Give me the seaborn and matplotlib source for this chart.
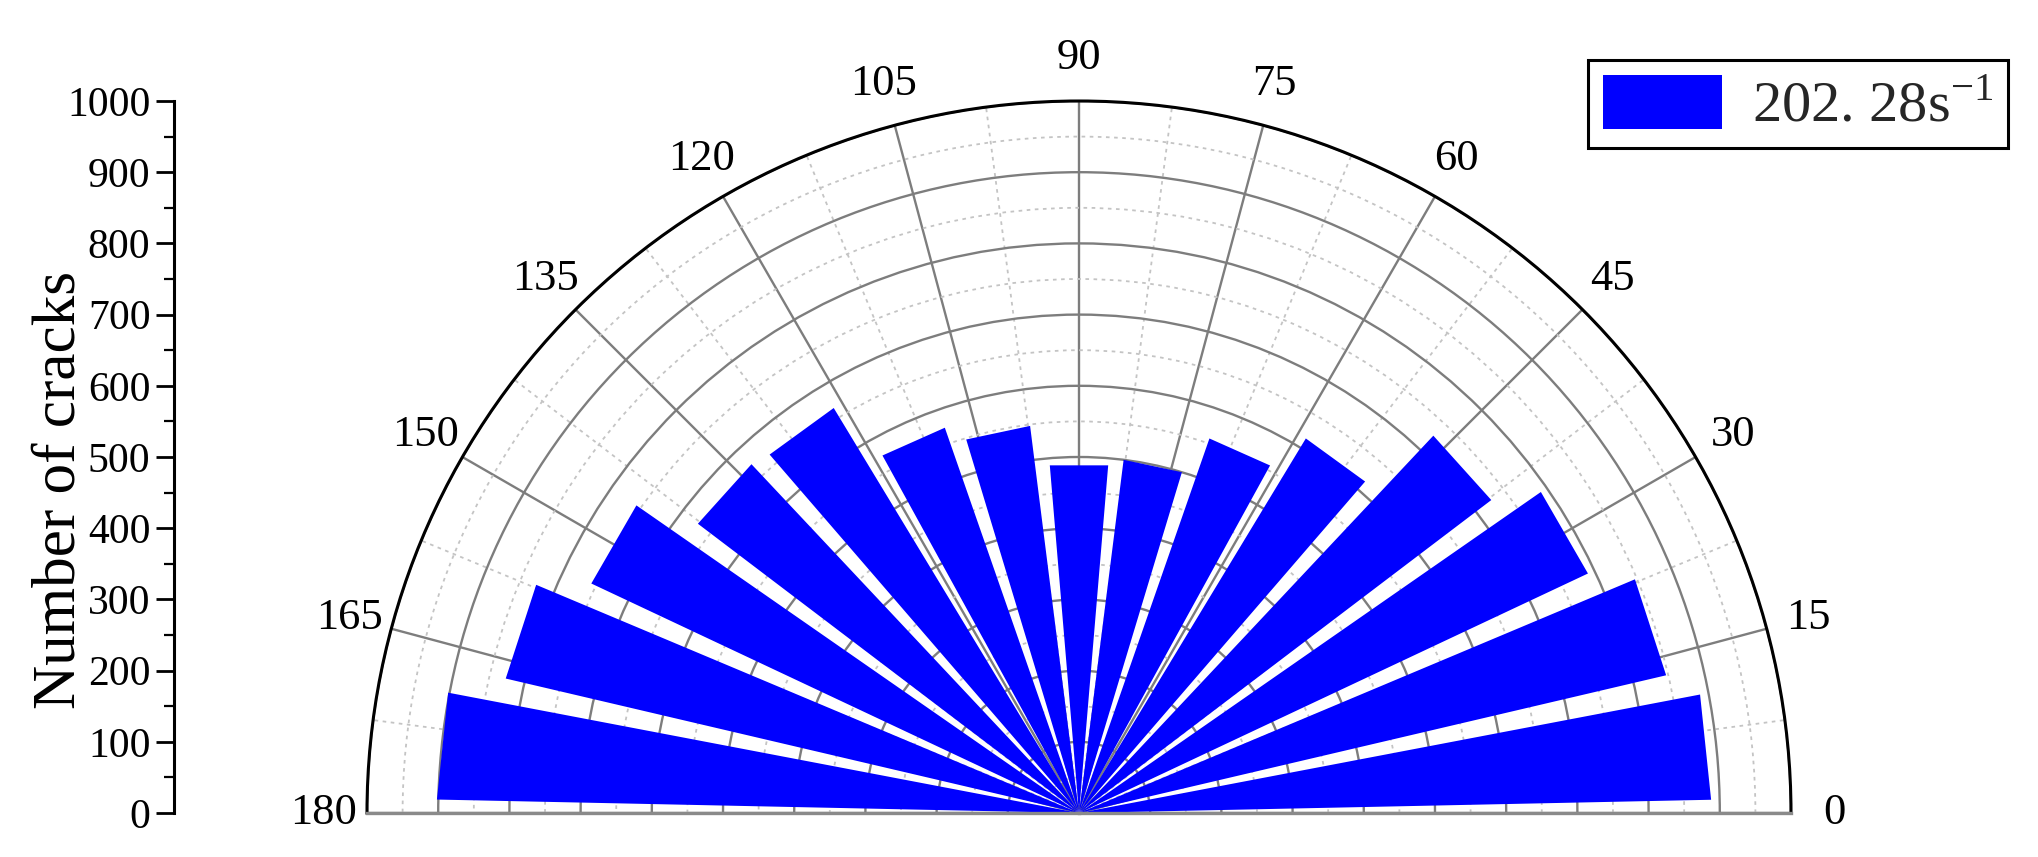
import numpy as np
import pandas as pd
import matplotlib
matplotlib.use("Agg")
import matplotlib.pyplot as plt
import seaborn as sns
from matplotlib.ticker import FixedLocator, MultipleLocator
from matplotlib.patches import Patch

# ---------------- data ----------------
angle_centers = [6, 18, 30, 42, 54, 66, 78, 90, 102, 114, 126, 138, 150, 162, 174]
crack_counts = [888, 847, 790, 727, 615, 557, 500, 490, 548, 573, 665, 672, 757, 827, 902]
theta_tick_values = [0, 15, 30, 45, 60, 75, 90, 105, 120, 135, 150, 165, 180]
theta_tick_labels = ["0", "15", "30", "45", "60", "75", "90", "105", "120", "135", "150", "165", "180"]
count_ticks = [0, 100, 200, 300, 400, 500, 600, 700, 800, 900, 1000]
count_tick_labels = ["0", "100", "200", "300", "400", "500", "600", "700", "800", "900", "1000"]
series_label = "202. 28s$^{\\mathregular{-1}}$"
y_label = "Number of cracks"
bar_color = "#0000FF"

# ---------------- style ----------------
sns.set_theme(style="ticks")
plt.rcParams["font.family"] = ["Liberation Serif", "DejaVu Serif"]
plt.rcParams["mathtext.fontset"] = "stix"

W, H = 2038, 857
fig = plt.figure(figsize=(W / 100, H / 100), dpi=100)
fig.patch.set_facecolor("white")

cx, cy, R = 1079, 813, 712      # polar centre & radius (pixels)
lx = 174                         # left count axis position (pixels)

# matplotlib squares the half-disc bbox: the wedge sits in the middle band
# of a 2R x 2R box, baseline at 1/4 of the box height
polar_rect = [(cx - R) / W, (H - cy - 0.5 * R) / H, 2 * R / W, 2 * R / H]

# ---------------- polar rose ----------------
pax = fig.add_axes(polar_rect, projection="polar")
pax.set_thetamin(0)
pax.set_thetamax(180)

df = pd.DataFrame({"theta": np.deg2rad(angle_centers), "count": crack_counts})
sns.barplot(data=df, x="theta", y="count", native_scale=True, orient="x",
            width=0.8, color=bar_color, saturation=1, linewidth=0,
            errorbar=None, ax=pax)
for p in pax.patches:
    p.set_zorder(2)
    try:
        p.get_path()._interpolation_steps = 1   # straight (chord) bar tops
    except Exception:
        pass

pax.set_xlabel("")
pax.set_ylabel("")
pax.set_thetamin(0)
pax.set_thetamax(180)
pax.set_ylim(0, 1000)
pax.set_aspect("auto")
pax.set_position(polar_rect)

pax.set_xticks(np.deg2rad(theta_tick_values))
pax.set_xticklabels(theta_tick_labels)
pax.xaxis.set_minor_locator(FixedLocator(np.deg2rad(np.arange(7.5, 180, 15))))
pax.yaxis.set_major_locator(FixedLocator(count_ticks[1:]))
pax.yaxis.set_minor_locator(FixedLocator(np.arange(50, 1000, 100)))
pax.set_yticklabels([])

pax.grid(which="major", axis="x", color="#7d7d7d", lw=1.7, ls="-")
pax.grid(which="major", axis="y", color="#7d7d7d", lw=1.7, ls="-")
pax.grid(which="minor", axis="both", color="#c4c4c4", lw=1.3, ls=(0, (2, 2.5)))
pax.set_axisbelow(True)

pax.tick_params(axis="x", which="major", direction="in", length=16, width=1.8,
                colors="black", labelsize=32, pad=24)
pax.tick_params(axis="x", which="minor", direction="in", length=8, width=1.5,
                colors="black")
pax.tick_params(axis="y", which="both", length=0)

pax.spines["polar"].set_color("black")
pax.spines["polar"].set_linewidth(2.2)
for s in ("start", "end"):
    pax.spines[s].set_color("#8a8a8a")
    pax.spines[s].set_linewidth(2.4)
pax.spines["inner"].set_visible(False)
pax.set_facecolor("white")

# ---------------- left count axis ----------------
lax = fig.add_axes([lx / W, (H - cy) / H, 0.0005, R / H])
lax.set_ylim(0, 1000)
lax.set_yticks(count_ticks)
lax.set_yticklabels(count_tick_labels)
lax.yaxis.set_minor_locator(MultipleLocator(50))
lax.set_xticks([])
for s in ("top", "right", "bottom"):
    lax.spines[s].set_visible(False)
lax.spines["left"].set_color("black")
lax.spines["left"].set_linewidth(2.2)
lax.patch.set_alpha(0)
lax.tick_params(axis="y", which="major", left=True, direction="out", length=13,
                width=2, colors="black", labelsize=30, pad=4)
lax.tick_params(axis="y", which="minor", left=True, direction="out", length=7,
                width=1.6, colors="black")
lax.set_ylabel(y_label, fontsize=44, color="black")
lax.yaxis.set_label_coords(88 / W, (H - 490) / H, transform=fig.transFigure)

# ---------------- legend ----------------
handle = Patch(facecolor=bar_color, edgecolor="none", label=series_label)
leg = fig.legend(handles=[handle], loc="upper right",
                 bbox_to_anchor=(2008 / W, 1 - 60 / H), fontsize=42,
                 frameon=True, fancybox=False, shadow=False, edgecolor="black",
                 handlelength=2.05, handleheight=1.05, handletextpad=0.5,
                 borderpad=0.25, borderaxespad=0)
leg.get_frame().set_linewidth(2.2)
leg.get_frame().set_alpha(1)

fig.savefig("out.png", dpi=100, facecolor="white")
